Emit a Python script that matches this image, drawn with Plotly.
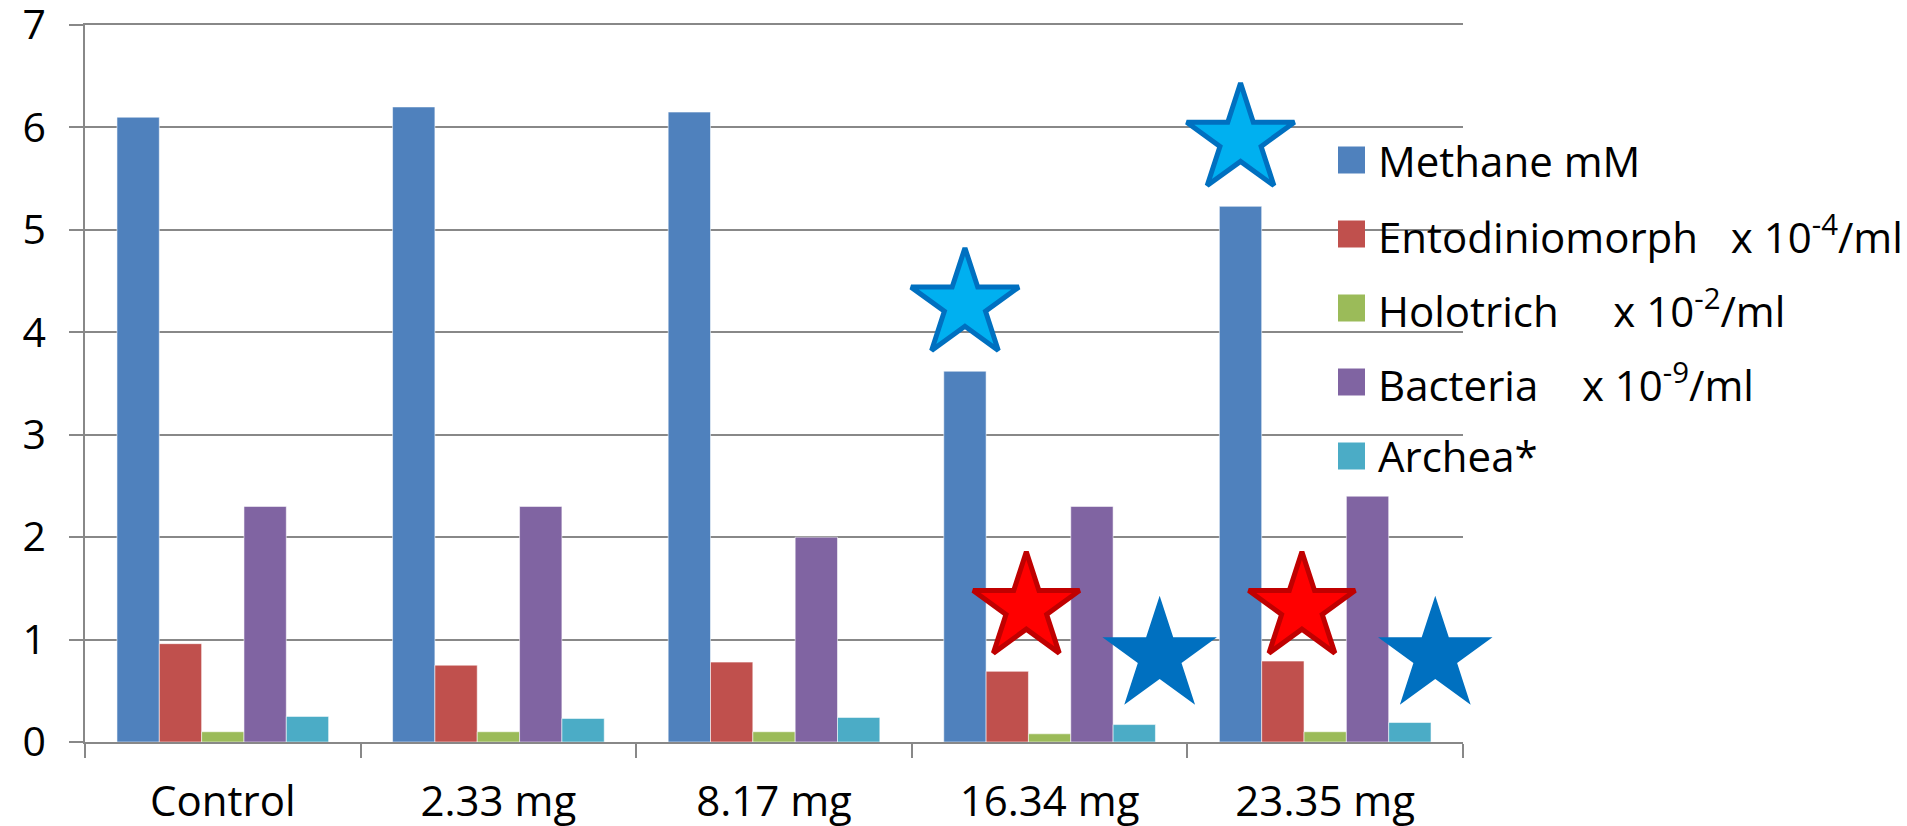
import plotly.graph_objects as go

# ---- data -------------------------------------------------------------
categories = ["Control", "2.33 mg", "8.17 mg", "16.34 mg", "23.35 mg"]
methane = [6.1, 6.2, 6.15, 3.62, 5.23]
entodiniomorph = [0.96, 0.75, 0.78, 0.69, 0.79]
holotrich = [0.1, 0.1, 0.1, 0.08, 0.1]
bacteria = [2.3, 2.3, 2.0, 2.3, 2.4]
archea = [0.25, 0.23, 0.24, 0.17, 0.19]

series_names = [
    "Methane mM",
    "Entodiniomorph\u00a0\u00a0 x 10<sup>-4</sup>/ml",
    "Holotrich\u00a0\u00a0\u00a0\u00a0 x 10<sup>-2</sup>/ml",
    "Bacteria\u00a0\u00a0\u00a0 x 10<sup>-9</sup>/ml",
    "Archea*",
]
series_values = [methane, entodiniomorph, holotrich, bacteria, archea]
series_colors = ["#4F81BD", "#C0504D", "#9BBB59", "#8064A2", "#4BACC6"]

y_ticks = [0, 1, 2, 3, 4, 5, 6, 7]

# significance flags per dose
methane_sig = [False, False, False, True, True]
ento_sig = [False, False, False, True, True]
archea_sig = [False, False, False, True, True]

# ---- layout constants (pixels) ---------------------------------------
W, H = 1907, 826
PLOT_L, PLOT_R, PLOT_T, PLOT_B = 85, 1463, 25, 742
BARGAP = 0.232
N_SERIES = len(series_values)
FONT = "Open Sans"
GRID = "#888888"

slot = (1 - BARGAP) / N_SERIES


def slot_center(i, k):
    """x position (category units) of bar k inside category i."""
    return i - (1 - BARGAP) / 2 + (k + 0.5) * slot


fig = go.Figure()

for name, vals, col in zip(series_names, series_values, series_colors):
    fig.add_trace(go.Bar(
        x=categories, y=vals, name=name,
        marker=dict(color=col, line=dict(color="rgba(255,255,255,0.55)", width=1)),
        showlegend=False,
    ))

# significance stars on a numeric overlay axis sharing the category range
STAR_ABOVE = 0.65
ENTO_STAR_Y = 1.31
ARCHEA_STAR_Y = 0.84

idx = [i for i, s in enumerate(methane_sig) if s]
fig.add_trace(go.Scatter(
    x=[slot_center(i, 0) for i in idx],
    y=[methane[i] + STAR_ABOVE for i in idx],
    xaxis="x2", mode="markers", showlegend=False, hoverinfo="skip", cliponaxis=False,
    marker=dict(symbol="star", size=81, color="#00B0F0",
                line=dict(color="#0070C0", width=5)),
))
idx = [i for i, s in enumerate(ento_sig) if s]
fig.add_trace(go.Scatter(
    x=[slot_center(i, 1) + 0.45 * slot for i in idx],
    y=[ENTO_STAR_Y for _ in idx],
    xaxis="x2", mode="markers", showlegend=False, hoverinfo="skip", cliponaxis=False,
    marker=dict(symbol="star", size=80, color="#FF0000",
                line=dict(color="#C00000", width=5)),
))
idx = [i for i, s in enumerate(archea_sig) if s]
fig.add_trace(go.Scatter(
    x=[slot_center(i, 4) + 0.6 * slot for i in idx],
    y=[ARCHEA_STAR_Y for _ in idx],
    xaxis="x2", mode="markers", showlegend=False, hoverinfo="skip", cliponaxis=False,
    marker=dict(symbol="star", size=86, color="#0070C0",
                line=dict(color="#0070C0", width=0)),
))

# ---- hand-built legend with large colour keys --------------------------
pw, ph = PLOT_R - PLOT_L, PLOT_B - PLOT_T
KEY_X0, KEY_SIZE, TEXT_X = 1338, 27, 1376
ROW0, ROW_STEP = 160, 74
shapes, annotations = [], []
for k, (name, col) in enumerate(zip(series_names, series_colors)):
    cy = ROW0 + k * ROW_STEP
    shapes.append(dict(
        type="rect", xref="paper", yref="paper", layer="above",
        x0=(KEY_X0 - PLOT_L) / pw, x1=(KEY_X0 + KEY_SIZE - PLOT_L) / pw,
        y0=(PLOT_B - cy - KEY_SIZE / 2) / ph, y1=(PLOT_B - cy + KEY_SIZE / 2) / ph,
        fillcolor=col, line=dict(width=0),
    ))
    annotations.append(dict(
        text=name, xref="paper", yref="paper",
        x=(TEXT_X - PLOT_L) / pw, y=(PLOT_B - cy) / ph,
        xanchor="left", yanchor="middle", showarrow=False,
        font=dict(family=FONT, size=42, color="black"),
    ))

fig.update_layout(
    width=W, height=H,
    margin=dict(l=PLOT_L, r=W - PLOT_R, t=PLOT_T, b=H - PLOT_B, pad=0),
    paper_bgcolor="white", plot_bgcolor="white",
    barmode="group", bargap=BARGAP, bargroupgap=0,
    shapes=shapes, annotations=annotations,
    xaxis=dict(
        type="category", range=[-0.5, 4.5], automargin=False,
        showline=True, mirror=True, linecolor=GRID, linewidth=1.5,
        ticks="outside", tickson="boundaries", ticklen=14, tickcolor=GRID, tickwidth=1.5,
        showgrid=False,
        tickfont=dict(family=FONT, size=42, color="black"),
        ticklabelstandoff=22, ticklabeloverflow="allow",
    ),
    xaxis2=dict(overlaying="x", range=[-0.5, 4.5], visible=False),
    yaxis=dict(
        range=[0, 7], tickvals=y_ticks, automargin=False,
        showline=True, linecolor=GRID, linewidth=1.5,
        ticks="outside", ticklen=14, tickcolor=GRID, tickwidth=1.5,
        showgrid=True, gridcolor=GRID, gridwidth=1.5, zeroline=False,
        tickfont=dict(family=FONT, size=41, color="black"),
        ticklabelstandoff=15, ticklabeloverflow="allow",
    ),
    font=dict(family=FONT, color="black"),
)

fig.write_html("out.html")
